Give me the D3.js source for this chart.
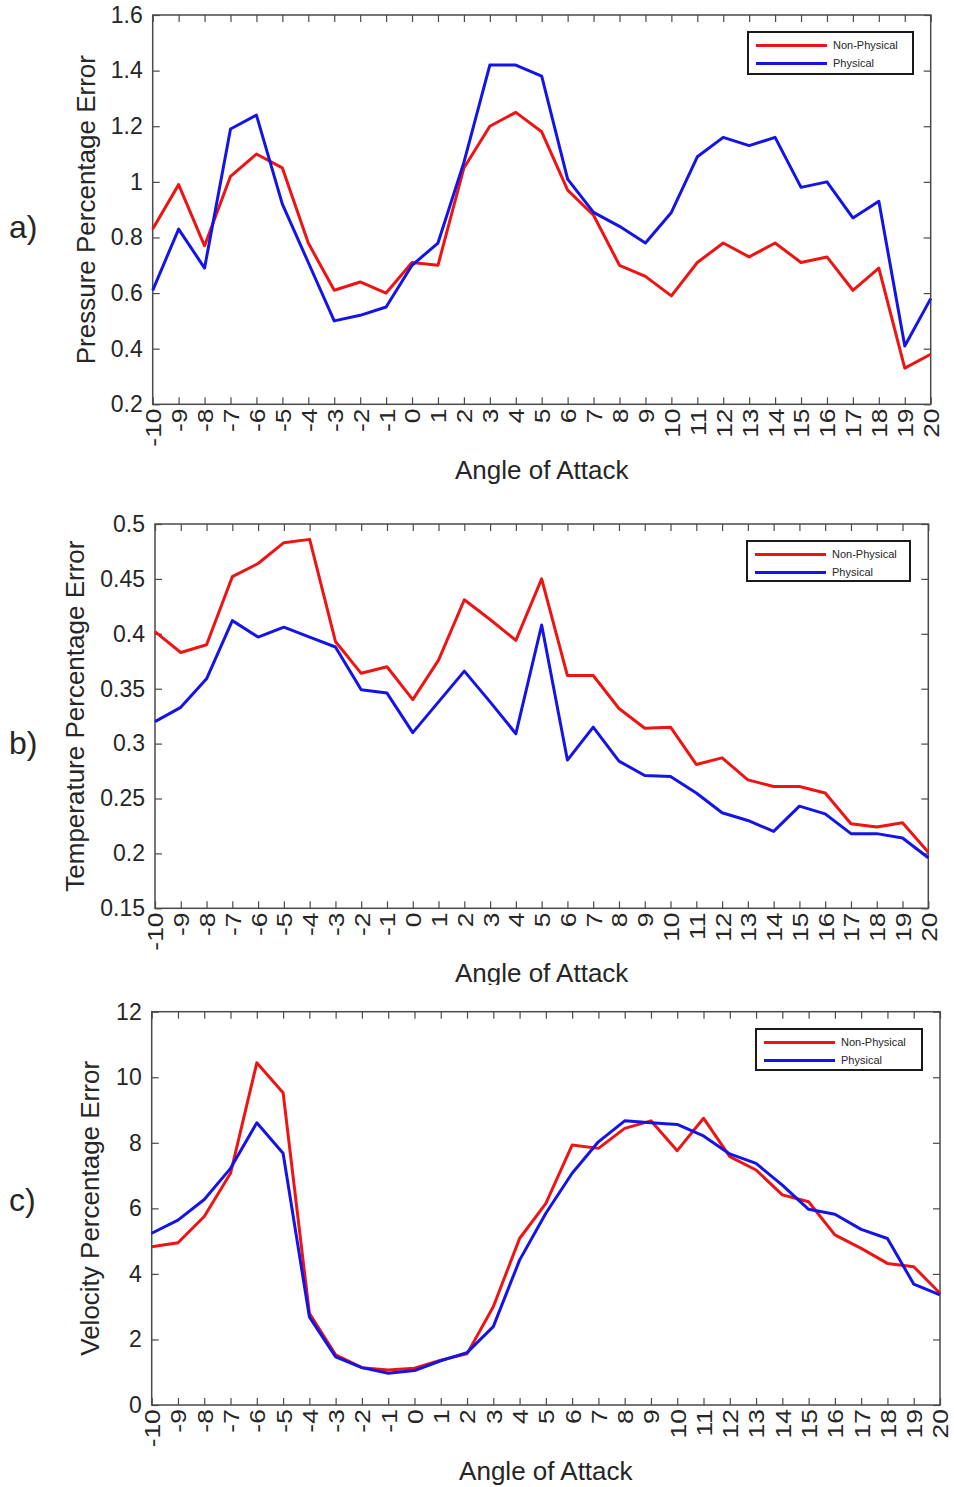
<!DOCTYPE html>
<html>
<head>
<meta charset="utf-8">
<script src="https://cdn.jsdelivr.net/npm/d3@7"></script>
<style>
  body { margin: 0; background: #fff; }
  svg { display: block; }
  text { font-family: "Liberation Sans", Arial, sans-serif; fill: #262626; }
</style>
</head>
<body>
<svg id="fig" width="954" height="1487"></svg>
<script>
// Angle of attack (degrees)
const angles = [-10, -9, -8, -7, -6, -5, -4, -3, -2, -1, 0, 1, 2, 3, 4, 5, 6, 7, 8, 9, 10,
                11, 12, 13, 14, 15, 16, 17, 18, 19, 20];

// a) pressure percentage error
const pressureNonPhysical = [0.83, 0.99, 0.77, 1.02, 1.10, 1.05, 0.78, 0.61, 0.64, 0.60, 0.71,
                             0.70, 1.05, 1.20, 1.25, 1.18, 0.97, 0.88, 0.70, 0.66, 0.59,
                             0.71, 0.78, 0.73, 0.78, 0.71, 0.73, 0.61, 0.69, 0.33, 0.38];
const pressurePhysical = [0.61, 0.83, 0.69, 1.19, 1.24, 0.92, 0.71, 0.50, 0.52, 0.55, 0.70,
                          0.78, 1.07, 1.42, 1.42, 1.38, 1.01, 0.89, 0.84, 0.78, 0.89,
                          1.09, 1.16, 1.13, 1.16, 0.98, 1.00, 0.87, 0.93, 0.41, 0.58];
const pressureTicks = [0.2, 0.4, 0.6, 0.8, 1, 1.2, 1.4, 1.6];

// b) temperature percentage error
const temperatureNonPhysical = [0.402, 0.383, 0.390, 0.452, 0.464, 0.483, 0.486, 0.393, 0.364, 0.370, 0.340,
                                0.376, 0.431, 0.413, 0.394, 0.450, 0.362, 0.362, 0.332, 0.314, 0.315,
                                0.281, 0.287, 0.267, 0.261, 0.261, 0.255, 0.227, 0.224, 0.228, 0.201];
const temperaturePhysical = [0.320, 0.333, 0.359, 0.412, 0.397, 0.406, 0.397, 0.388, 0.349, 0.346, 0.310,
                             0.338, 0.366, 0.338, 0.309, 0.408, 0.285, 0.315, 0.284, 0.271, 0.270,
                             0.255, 0.237, 0.230, 0.220, 0.243, 0.236, 0.218, 0.218, 0.214, 0.196];
const temperatureTicks = [0.15, 0.2, 0.25, 0.3, 0.35, 0.4, 0.45, 0.5];

// c) velocity percentage error
const velocityNonPhysical = [4.83, 4.95, 5.75, 7.07, 10.44, 9.53, 2.80, 1.53, 1.14, 1.07, 1.12,
                             1.37, 1.56, 3.00, 5.08, 6.15, 7.93, 7.83, 8.44, 8.67, 7.76,
                             8.75, 7.58, 7.17, 6.41, 6.20, 5.19, 4.78, 4.32, 4.22, 3.41];
const velocityPhysical = [5.24, 5.64, 6.27, 7.22, 8.61, 7.68, 2.69, 1.47, 1.14, 0.97, 1.05,
                          1.35, 1.60, 2.39, 4.42, 5.85, 7.07, 8.03, 8.67, 8.61, 8.56,
                          8.21, 7.66, 7.37, 6.71, 5.97, 5.82, 5.36, 5.08, 3.69, 3.36];
const velocityTicks = [0, 2, 4, 6, 8, 10, 12];

const seriesNames = ["Non-Physical", "Physical"];
const seriesColors = ["#ee1414", "#1414e6"];

const svg = d3.select("#fig");

const panels = [
  { tag: "a)", ylabel: "Pressure Percentage Error",
    series: [pressureNonPhysical, pressurePhysical], ticks: pressureTicks,
    left: 152.7, right: 930.7, top: 15, bottom: 404.3,
    tagY: 238, ylabelX: 95, xlabelY: 479, legend: { x: 748, y: 32, w: 165, h: 42 } },
  { tag: "b)", ylabel: "Temperature Percentage Error",
    series: [temperatureNonPhysical, temperaturePhysical], ticks: temperatureTicks,
    left: 155, right: 928.3, top: 524, bottom: 908.3,
    tagY: 754, ylabelX: 84, xlabelY: 982, clipBottom: 985, legend: { x: 747, y: 541, w: 163, h: 40 } },
  { tag: "c)", ylabel: "Velocity Percentage Error",
    series: [velocityNonPhysical, velocityPhysical], ticks: velocityTicks,
    left: 151.7, right: 940, top: 1011.7, bottom: 1405,
    tagY: 1211, ylabelX: 99, xlabelY: 1480, legend: { x: 756, y: 1029, w: 166, h: 41 } }
];

const axisColor = "#4a4a4a";

panels.forEach((p, i) => {
  const g = svg.append("g");
  const x = d3.scaleLinear().domain([angles[0], angles[angles.length - 1]]).range([p.left, p.right]);
  const y = d3.scaleLinear().domain([p.ticks[0], p.ticks[p.ticks.length - 1]]).range([p.bottom, p.top]);

  // bottom axis with rotated labels
  const gx = g.append("g").attr("transform", `translate(0,${p.bottom})`)
    .call(d3.axisBottom(x).tickValues(angles).tickFormat(d => String(d))
      .tickSizeInner(-7).tickSizeOuter(0));
  gx.selectAll(".tick text")
    .attr("transform", "rotate(-90) scale(1.2,1)")
    .attr("text-anchor", "end")
    .attr("x", -3.5).attr("y", 0).attr("dy", "0.36em")
    .style("font-size", "22px");

  // mirrored top ticks
  g.append("g").attr("transform", `translate(0,${p.top})`)
    .call(d3.axisTop(x).tickValues(angles).tickFormat("").tickSizeInner(-7).tickSizeOuter(0));

  // left axis
  const gy = g.append("g").attr("transform", `translate(${p.left},0)`)
    .call(d3.axisLeft(y).tickValues(p.ticks).tickFormat(d => String(d))
      .tickSizeInner(-7).tickSizeOuter(0).tickPadding(10));
  gy.selectAll(".tick text").style("font-size", "23px");

  // mirrored right ticks
  g.append("g").attr("transform", `translate(${p.right},0)`)
    .call(d3.axisRight(y).tickValues(p.ticks).tickFormat("").tickSizeInner(-7).tickSizeOuter(0));

  g.selectAll(".domain").remove();
  g.selectAll(".tick line").attr("stroke", axisColor).attr("stroke-width", 1.2);
  g.selectAll(".tick text").attr("fill", "#262626").style("font-family", '"Liberation Sans", Arial, sans-serif');

  // plot box
  g.append("rect")
    .attr("x", p.left).attr("y", p.top)
    .attr("width", p.right - p.left).attr("height", p.bottom - p.top)
    .attr("fill", "none").attr("stroke", axisColor).attr("stroke-width", 1.5);

  // data lines
  const line = d3.line().x((d, k) => x(angles[k])).y(d => y(d));
  p.series.forEach((s, k) => {
    g.append("path").datum(s)
      .attr("d", line)
      .attr("fill", "none")
      .attr("stroke", seriesColors[k])
      .attr("stroke-width", 3)
      .attr("stroke-linejoin", "round");
  });

  // legend
  const L = p.legend;
  const lg = g.append("g");
  lg.append("rect").attr("x", L.x).attr("y", L.y).attr("width", L.w).attr("height", L.h)
    .attr("fill", "#fff").attr("stroke", "#1a1a1a").attr("stroke-width", 2);
  seriesNames.forEach((name, k) => {
    const ry = L.y + 13.5 + k * 18;
    lg.append("line").attr("x1", L.x + 8).attr("x2", L.x + 79)
      .attr("y1", ry).attr("y2", ry)
      .attr("stroke", seriesColors[k]).attr("stroke-width", 3);
    lg.append("text").attr("x", L.x + 85).attr("y", ry).attr("dy", "0.35em")
      .style("font-size", "11px").text(name);
  });

  // axis labels
  const xl = g.append("text")
    .attr("x", (p.left + p.right) / 2).attr("y", p.xlabelY)
    .attr("text-anchor", "middle").style("font-size", "26px")
    .text("Angle of Attack");
  if (p.clipBottom) {
    const id = "clip" + i;
    svg.append("clipPath").attr("id", id)
      .append("rect").attr("x", 0).attr("y", 0).attr("width", 954).attr("height", p.clipBottom);
    xl.attr("clip-path", `url(#${id})`);
  }

  g.append("text")
    .attr("transform", `translate(${p.ylabelX},${(p.top + p.bottom) / 2}) rotate(-90)`)
    .attr("text-anchor", "middle").style("font-size", "26px")
    .text(p.ylabel);

  // panel tag
  g.append("text").attr("x", 9).attr("y", p.tagY)
    .style("font-size", "32px").attr("fill", "#111").text(p.tag);
});
</script>
</body>
</html>
